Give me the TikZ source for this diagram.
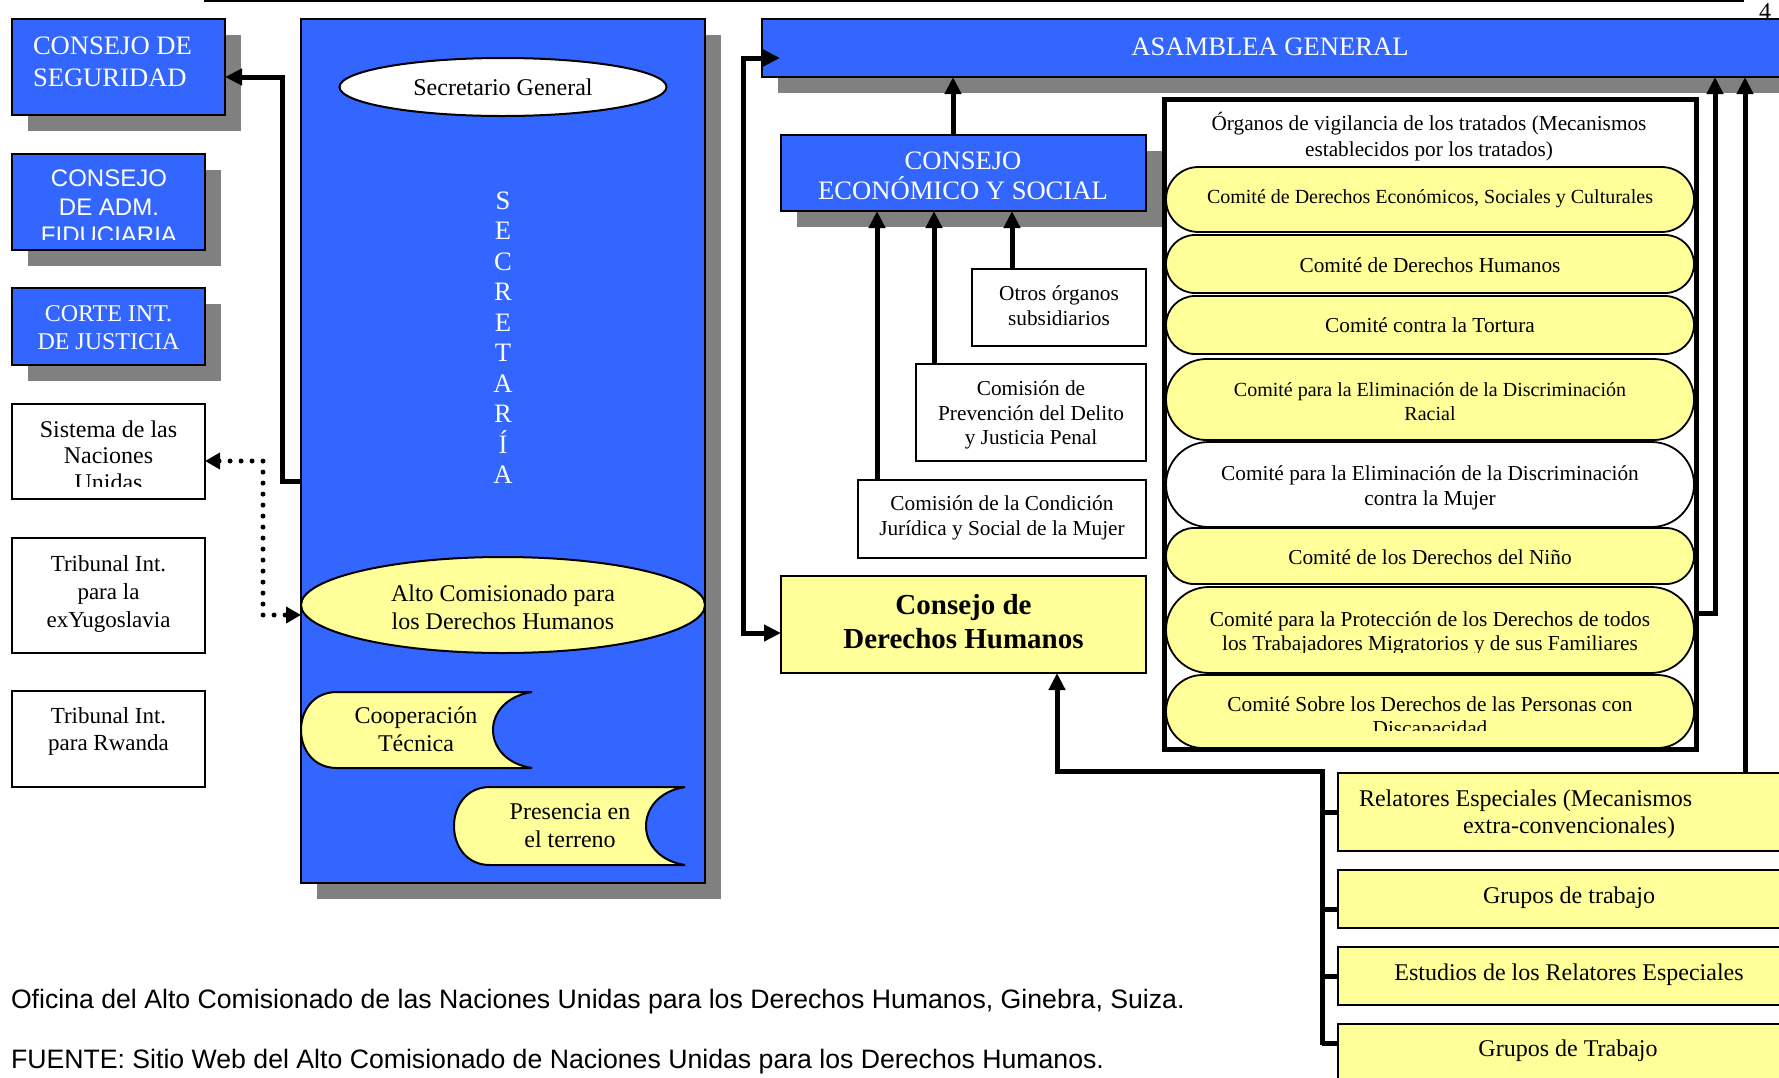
\documentclass[tikz,border=0pt]{standalone}
\usepackage{fontspec}
\setmainfont{Liberation Serif}
\newfontfamily\arialf{Liberation Sans}
\usetikzlibrary{arrows.meta,shapes.geometric,shadows}
\definecolor{unblue}{HTML}{3366FF}
\definecolor{unyel}{HTML}{FFFF99}
\definecolor{shgray}{HTML}{808080}
\newcommand\fsz[2]{\fontsize{#1}{#2}\selectfont}
\begin{document}
\begin{tikzpicture}[x=1pt,y=-1pt,
  every node/.style={inner sep=0pt, outer sep=0pt},
  shd/.style={drop shadow={shadow xshift=16pt,shadow yshift=-16pt,fill=shgray,opacity=1}},
  lbl/.style={align=center, execute at begin node=\strut, execute at end node=\strut},
  bluebox/.style={rectangle, draw=black, line width=2.5pt, fill=unblue, shd, text=white},
  whitebox/.style={rectangle, draw=black, line width=2.5pt, fill=white},
  yelbox/.style={rectangle, draw=black, line width=2pt, fill=unyel},
  stad/.style={rectangle, draw=black, line width=1.8pt, fill=unyel, minimum width=528},
  conn/.style={line width=5pt, draw=black},
  arr/.style={conn, -{Triangle[length=17pt,width=16pt]}},
  dblarr/.style={conn, {Triangle[length=17pt,width=16pt]}-{Triangle[length=17pt,width=16pt]}},
  dotarr/.style={line width=5pt, line cap=round, dash pattern=on 0pt off 11pt,
     {Triangle[length=15pt,width=16pt]}-{Triangle[length=15pt,width=16pt]}},
]
\useasboundingbox (0,0) rectangle (1779,1077);
\clip (0,0) rectangle (1779,1077);

% page rule and number
\draw[line width=2pt] (204,1) -- (1744,1);
\node[font=\fsz{24}{27}] (pgnum) at (1765,12) {4};

% ---------------- left column ----------------
\node[bluebox, minimum width=213, minimum height=96] (cs) at (118.5,67) {};
\node[lbl, anchor=west, align=left, text=white, font=\fsz{26.6}{32}] (cs-t) at (33,66.4) {CONSEJO DE\\SEGURIDAD};

\node[bluebox, minimum width=193, minimum height=96] (adm) at (108.5,202) {};
\begin{scope}
\clip (12,154) rectangle (205,239);
\node[lbl, text=white, font=\arialf\fsz{24}{28.5}] (adm-t) at (109,211.2) {CONSEJO\\DE ADM.\\FIDUCIARIA};
\end{scope}

\node[bluebox, minimum width=193, minimum height=77] (cij) at (108.5,326.5) {};
\node[lbl, text=white, font=\fsz{24}{28}] (cij-t) at (108.5,332) {CORTE INT.\\DE JUSTICIA};

\node[whitebox, minimum width=193, minimum height=95] (sis) at (108.5,451.5) {};
\begin{scope}
\clip (12,404) rectangle (205,486);
\node[lbl, font=\fsz{24}{26.5}] (sis-t) at (108.5,459.2) {Sistema de las\\Naciones\\Unidas};
\end{scope}

\node[whitebox, lbl, minimum width=193, minimum height=115, font=\fsz{23}{28}] (tpy) at (108.5,595.5) {Tribunal Int.\\para la\\exYugoslavia};

\node[whitebox, minimum width=193, minimum height=96] (tpr) at (108.5,739) {};
\node[lbl, font=\fsz{23}{27}] (tpr-t) at (108.5,733) {Tribunal Int.\\para Rwanda};

% ---------------- Secretaria ----------------
\node[bluebox, minimum width=404, minimum height=864] (sec) at (503,451) {};
\node[ellipse, draw=black, line width=2pt, fill=white, minimum width=327, minimum height=58] (sg) at (503,87) {};
\node[lbl, font=\fsz{24}{27.6}] (sg-t) at (503,90.4) {Secretario General};
\node[lbl, text=white, font=\fsz{26.6}{30.5}] (secl) at (503,342.3) {S\\E\\C\\R\\E\\T\\A\\R\\Í\\A};
\node[ellipse, draw=black, line width=2pt, fill=unyel, minimum width=404, minimum height=96] (alto) at (503,605) {};
\node[lbl, font=\fsz{24}{27.5}] (alto-t) at (503,611.1) {Alto Comisionado para\\los Derechos Humanos};

\path[draw=black, line width=2pt, fill=unyel] (532,692) -- (337,692) .. controls (289,692) and (289,768) .. (337,768) -- (532,768) .. controls (480,760) and (480,700) .. (532,692) -- cycle;
\node[lbl, font=\fsz{24}{28}] (coop) at (416,733) {Cooperación\\Técnica};

\path[draw=black, line width=2pt, fill=unyel] (685,787) -- (490,787) .. controls (442,787) and (442,865) .. (490,865) -- (685,865) .. controls (633,857) and (633,795) .. (685,787) -- cycle;
\node[lbl, font=\fsz{24}{28}] (pres) at (570,829.7) {Presencia en\\el terreno};

% ---------------- right side ----------------
\node[bluebox, minimum width=1038, minimum height=58] (ag) at (1281,48) {};
\node[lbl, text=white, font=\fsz{26.6}{30}] (ag-t) at (1270,49) {ASAMBLEA GENERAL};

\node[bluebox, minimum width=365, minimum height=76] (eco) at (963.5,173) {};
\node[lbl, text=white, font=\fsz{26.6}{30}] (eco-t) at (963,180) {CONSEJO\\ECONÓMICO Y SOCIAL};

\node[whitebox, minimum width=174, minimum height=77] (otros) at (1059,307.5) {};
\node[lbl, font=\fsz{21.3}{25}] (otros-t) at (1059,309.8) {Otros órganos\\subsidiarios};
\node[whitebox, minimum width=230, minimum height=97] (prev) at (1031,412.5) {};
\node[lbl, font=\fsz{21.3}{24.5}] (prev-t) at (1031,416.5) {Comisión de\\Prevención del Delito\\y Justicia Penal};
\node[whitebox, lbl, minimum width=288, minimum height=78, font=\fsz{21.3}{25}] (cond) at (1002,519) {Comisión de la Condición\\Jurídica y Social de la Mujer};
\node[yelbox, minimum width=365, minimum height=97] (cdh) at (963.5,624.5) {};
\node[lbl, font=\bfseries\fsz{29}{34}] (cdh-t) at (963.5,626.2) {Consejo de\\Derechos Humanos};

% treaty bodies
\node[rectangle, fill=white, minimum width=532, minimum height=650] (treaty) at (1430,424) {};
\node[lbl, font=\fsz{21.3}{26}] (treaty-t) at (1429,138.1) {Órganos de vigilancia de los tratados (Mecanismos\\establecidos por los tratados)};
\node[stad, minimum height=65, rounded corners=32.5pt] (c1) at (1430,199.5) {};
\node[lbl, font=\fsz{20}{23}] (c1-t) at (1430,198.4) {Comité de Derechos Económicos, Sociales y Culturales};
\node[stad, minimum height=58, rounded corners=29pt] (c2) at (1430,264) {};
\node[lbl, font=\fsz{21.3}{24}] (c2-t) at (1430,267.4) {Comité de Derechos Humanos};
\node[stad, minimum height=58, rounded corners=29pt] (c3) at (1430,325) {};
\node[lbl, font=\fsz{21.3}{24}] (c3-t) at (1430,327.5) {Comité contra la Tortura};
\node[stad, minimum height=81, rounded corners=40.5pt] (c4) at (1430,399.5) {};
\node[lbl, font=\fsz{20}{24}] (c4-t) at (1430,405.2) {Comité para la Eliminación de la Discriminación\\Racial};
\node[stad, fill=white, minimum height=85, rounded corners=42.5pt] (c5) at (1430,484.5) {};
\node[lbl, font=\fsz{21.3}{25}] (c5-t) at (1430,489) {Comité para la Eliminación de la Discriminación\\contra la Mujer};
\node[stad, minimum height=56, rounded corners=28pt] (c6) at (1430,556) {};
\node[lbl, font=\fsz{21.3}{24}] (c6-t) at (1430,559.4) {Comité de los Derechos del Niño};
\node[stad, minimum height=86, rounded corners=43pt] (c7) at (1430,630) {};
\begin{scope}
\clip (1166,587) rectangle (1694,652);
\node[lbl, font=\fsz{21.3}{24}] (c7-t) at (1430,635.1) {Comité para la Protección de los Derechos de todos\\los Trabajadores Migratorios y de sus Familiares};
\end{scope}
\node[stad, minimum height=73, rounded corners=36.5pt] (c8) at (1430,711.5) {};
\begin{scope}
\clip (1166,675) rectangle (1694,730);
\node[lbl, font=\fsz{21.3}{24}] (c8-t) at (1430,720.1) {Comité Sobre los Derechos de las Personas con\\Discapacidad};
\end{scope}
\draw[line width=5pt] (treaty.north west) rectangle (treaty.south east);

% extra-conventional mechanisms
\node[yelbox, minimum width=462, minimum height=78] (rel) at (1569,812) {};
\node[lbl, font=\fsz{24}{27}] (rel-t) at (1569,815.4) {\makebox[420pt][l]{Relatores Especiales (Mecanismos}\\extra-convencionales)};
\node[yelbox, minimum width=462, minimum height=58] (gt1) at (1569,899) {};
\node[lbl, font=\fsz{24}{27.6}] (gt1-t) at (1569,897.9) {Grupos de trabajo};
\node[yelbox, minimum width=462, minimum height=58] (est) at (1569,976) {};
\node[lbl, font=\fsz{24}{27.6}] (est-t) at (1569,974.9) {Estudios de los Relatores Especiales};
\node[yelbox, minimum width=462, minimum height=66] (gt2) at (1569,1057) {};
\node[lbl, font=\fsz{24}{27.6}] (gt2-t) at (1568,1051) {Grupos de Trabajo};

% ---------------- connectors ----------------
\coordinate (k1) at (282,481);
\coordinate (k2) at (282,77);
\draw[arr] (sec.west |- k1) -- (k1) -- (k2) -- (cs.east |- k2);

\coordinate (d1) at (263,461);
\coordinate (d2) at (263,615);
\draw[dotarr] (sis.east |- d1) -- (d1) -- (d2) -- (alto.west |- d2);

\coordinate (e0) at (953,0);
\draw[arr] (eco.north -| e0) -- (ag.south -| e0);
\coordinate (e1) at (1012,0);
\draw[arr] (otros.north -| e1) -- (eco.south -| e1);
\coordinate (e2) at (934,0);
\draw[arr] (prev.north -| e2) -- (eco.south -| e2);
\coordinate (e3) at (877,0);
\draw[arr] (cond.north -| e3) -- (eco.south -| e3);

\coordinate (g0) at (780,58);
\coordinate (g1) at (743,58);
\coordinate (g2) at (743,633);
\draw[dblarr] (g0) -- (g1) -- (g2) -- (cdh.west |- g2);

\coordinate (b0) at (1322,771);
\coordinate (b1) at (1057,771);
\coordinate (b9) at (1322,1045);
\draw[arr] (b9) -- (b0) -- (b1) -- (cdh.south -| b1);
\coordinate (s1) at (1322,812);
\coordinate (s2) at (1322,909);
\coordinate (s3) at (1322,976);
\coordinate (s4) at (1322,1043);
\draw[conn] (s1) -- (rel.west |- s1);
\draw[conn] (s2) -- (gt1.west |- s2);
\draw[conn] (s3) -- (est.west |- s3);
\draw[conn] (s4) -- (gt2.west |- s4);

\coordinate (t1) at (1715,613);
\draw[arr] (treaty.east |- t1) -- (t1) -- (ag.south -| t1);
\coordinate (r1) at (1745,0);
\draw[arr] (rel.north -| r1) -- (ag.south -| r1);

% ---------------- captions ----------------
\node[anchor=base west, font=\arialf\fsz{26.66}{30}] (cap1) at (11,1008) {Oficina del Alto Comisionado de las Naciones Unidas para los Derechos Humanos, Ginebra, Suiza.};
\node[anchor=base west, font=\arialf\fsz{26.66}{30}] (cap2) at (11,1068) {FUENTE: Sitio Web del Alto Comisionado de Naciones Unidas para los Derechos Humanos.};
\end{tikzpicture}
\end{document}
